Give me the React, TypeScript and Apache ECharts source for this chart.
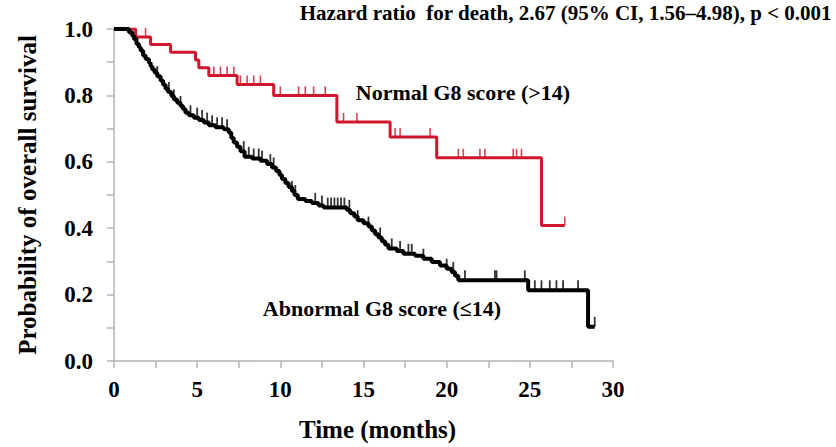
import React, { useEffect, useRef } from "react";
import * as echarts from "echarts";

// Normal G8 score (>14): event times (months) and survival after each step
const normalTimes = [0, 1.3, 2.2, 3.4, 4.9, 5.1, 5.7, 7.4, 9.6, 13.4, 16.6, 19.4, 25.7, 27.1];
const normalSurv = [1.0, 0.976, 0.953, 0.93, 0.907, 0.883, 0.86, 0.833, 0.8, 0.72, 0.675, 0.612, 0.408, 0.408];
const normalCensor = [1.9, 6.0, 6.4, 6.8, 7.2, 7.6, 8.0, 8.4, 8.8, 10.0, 11.1, 11.5, 12.0, 12.7, 13.8, 14.6, 16.9, 17.2, 19.0, 20.7, 21.0, 22.0, 22.3, 24.0, 24.2, 24.5, 27.1];

// Abnormal G8 score (<=14)
const abnormalTimes = [0, 0.9, 1.1, 1.2, 1.35, 1.5, 1.6, 1.75, 1.9, 2.1, 2.2, 2.3, 2.45, 2.6, 2.8, 2.95, 3.1, 3.25, 3.45, 3.6, 3.8, 4.0, 4.15, 4.3, 4.5, 4.8, 5.1, 5.4, 5.7, 6.1, 6.6, 6.9, 7.05, 7.2, 7.4, 7.6, 7.85, 8.3, 8.8, 9.2, 9.5, 9.75, 9.95, 10.1, 10.3, 10.5, 10.7, 10.85, 11.05, 11.5, 11.9, 12.3, 12.6, 14.0, 14.2, 14.45, 14.65, 15.0, 15.3, 15.5, 15.7, 15.9, 16.1, 16.3, 16.5, 17.0, 17.4, 18.1, 18.6, 19.1, 19.6, 20.0, 20.3, 20.5, 20.7, 24.9, 28.5, 28.9];
const abnormalSurv = [1.0, 0.99, 0.98, 0.97, 0.955, 0.945, 0.935, 0.92, 0.91, 0.898, 0.888, 0.878, 0.868, 0.858, 0.845, 0.832, 0.82, 0.81, 0.798, 0.788, 0.778, 0.768, 0.758, 0.748, 0.74, 0.733, 0.726, 0.718, 0.71, 0.704, 0.698, 0.688, 0.672, 0.658, 0.645, 0.632, 0.615, 0.61, 0.603, 0.593, 0.583, 0.572, 0.56, 0.548, 0.536, 0.524, 0.512, 0.5, 0.488, 0.482, 0.476, 0.468, 0.462, 0.455, 0.445, 0.435, 0.424, 0.415, 0.405, 0.393, 0.382, 0.372, 0.361, 0.35, 0.339, 0.331, 0.323, 0.317, 0.308, 0.298, 0.288, 0.278, 0.268, 0.257, 0.243, 0.213, 0.103, 0.103];
const abnormalCensor = [2.6, 3.3, 3.6, 4.0, 4.6, 5.0, 5.3, 5.6, 5.9, 6.2, 6.5, 6.8, 7.8, 8.1, 8.4, 8.7, 8.9, 9.4, 9.6, 10.7, 10.9, 12.1, 12.5, 12.85, 13.05, 13.25, 13.45, 13.65, 13.85, 14.15, 14.65, 15.3, 16.0, 16.7, 17.2, 17.7, 17.9, 18.6, 20.0, 20.4, 21.1, 22.9, 23.0, 24.7, 25.3, 25.7, 26.2, 26.6, 27.0, 27.9, 28.9];

const xTicks = [0, 5, 10, 15, 20, 25, 30];
const yTicks = [0.0, 0.2, 0.4, 0.6, 0.8, 1.0];

const FONT = "'Liberation Serif', 'Times New Roman', serif";
const RED = "#d0152d";
const AXIS = "#b3b3b3";

function survAt(times: number[], surv: number[], t: number) {
  let s = surv[0];
  for (let i = 0; i < times.length; i++) {
    if (times[i] <= t) s = surv[i];
  }
  return s;
}

function pts(times: number[], surv: number[]) {
  return times.map((t, i) => [t, surv[i]]);
}

export default function App() {
  const ref = useRef<HTMLDivElement>(null);
  useEffect(() => {
    if (!ref.current) return;
    const chart = echarts.init(ref.current, null, { renderer: "svg" });
    const censorMark = (times: number[], surv: number[], cens: number[]) =>
      cens.map((t) => [t, survAt(times, surv, t)]);
    chart.setOption({
      animation: false,
      backgroundColor: "#ffffff",
      grid: { left: 114, top: 29, width: 499, height: 333.7, containLabel: false },
      xAxis: {
        type: "value",
        min: 0,
        max: 30,
        interval: 2.5,
        splitLine: { show: false },
        axisLine: { lineStyle: { color: AXIS, width: 1.5 } },
        axisTick: { length: 7, lineStyle: { color: AXIS, width: 1.5 } },
        axisLabel: {
          margin: 17,
          color: "#000",
          fontFamily: FONT,
          fontWeight: "bold",
          fontSize: 23,
          formatter: (v: number) => (xTicks.includes(v) ? String(v) : ""),
        },
        name: "Time (months)",
        nameLocation: "middle",
        nameGap: 56,
        nameTextStyle: {
          color: "#000",
          fontFamily: FONT,
          fontWeight: "bold",
          fontSize: 25,
          padding: [0, 0, 0, 28],
        },
      },
      yAxis: {
        type: "value",
        min: 0,
        max: 1,
        interval: 0.1,
        splitLine: { show: false },
        axisLine: { show: true, lineStyle: { color: AXIS, width: 1.5 } },
        axisTick: { show: true, length: 7, lineStyle: { color: AXIS, width: 1.5 } },
        axisLabel: {
          margin: 21,
          color: "#000",
          fontFamily: FONT,
          fontWeight: "bold",
          fontSize: 23,
          formatter: (v: number) =>
            yTicks.some((y) => Math.abs(y - v) < 1e-6) ? v.toFixed(1) : "",
        },
        name: "Probability of overall survival",
        nameLocation: "middle",
        nameGap: 74,
        nameTextStyle: { color: "#000", fontFamily: FONT, fontWeight: "bold", fontSize: 25 },
      },
      series: [
        {
          name: "Normal G8 score (>14)",
          type: "line",
          step: "end",
          symbol: "none",
          data: pts(normalTimes, normalSurv),
          lineStyle: { color: RED, width: 3 },
          z: 2,
        },
        {
          type: "scatter",
          data: censorMark(normalTimes, normalSurv, normalCensor),
          symbol: "rect",
          symbolSize: [1.6, 9],
          symbolOffset: [0, -4.5],
          itemStyle: { color: RED },
          z: 2,
        },
        {
          name: "Abnormal G8 score (≤14)",
          type: "line",
          step: "end",
          symbol: "none",
          data: pts(abnormalTimes, abnormalSurv),
          lineStyle: { color: "#000", width: 4 },
          z: 3,
        },
        {
          type: "scatter",
          data: censorMark(abnormalTimes, abnormalSurv, abnormalCensor),
          symbol: "rect",
          symbolSize: [1.8, 10],
          symbolOffset: [0, -5],
          itemStyle: { color: "#000" },
          z: 3,
        },
      ],
      graphic: [
        {
          type: "text",
          right: 4,
          top: 2,
          style: {
            text: "Hazard ratio  for death, 2.67 (95% CI, 1.56–4.98), p < 0.001",
            font: `bold 21px ${FONT}`,
            fill: "#000",
          },
        },
        {
          type: "text",
          x: 463,
          y: 92,
          style: {
            text: "Normal G8 score (>14)",
            font: `bold 22px ${FONT}`,
            fill: "#000",
            align: "center",
            verticalAlign: "middle",
          },
        },
        {
          type: "text",
          x: 382,
          y: 308,
          style: {
            text: "Abnormal G8 score (≤14)",
            font: `bold 22px ${FONT}`,
            fill: "#000",
            align: "center",
            verticalAlign: "middle",
          },
        },
      ],
    });
    return () => chart.dispose();
  }, []);
  return (
    <div
      ref={ref}
      style={{ position: "fixed", left: 0, top: 0, width: 836, height: 447, background: "#fff" }}
    />
  );
}
